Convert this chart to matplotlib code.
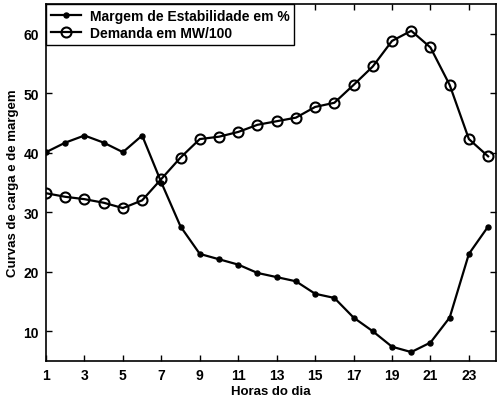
import matplotlib
matplotlib.use("Agg")
import matplotlib.pyplot as plt

plt.rcParams['font.family'] = ['Liberation Sans', 'DejaVu Sans']
plt.rcParams['font.weight'] = 'bold'

hours = list(range(1, 25))
margem = [40.1, 41.7, 42.9, 41.7, 40.1, 42.9, 35.0, 27.6, 23.0, 22.1, 21.2, 19.8,
          19.1, 18.4, 16.3, 15.6, 12.3, 10.0, 7.4, 6.5, 8.1, 12.3, 23.0, 27.6]
demanda = [33.2, 32.6, 32.2, 31.6, 30.7, 32.0, 35.6, 39.2, 42.3, 42.7, 43.5, 44.7,
           45.3, 45.9, 47.7, 48.4, 51.4, 54.5, 58.8, 60.5, 57.7, 51.4, 42.3, 39.4]
xticks = [1, 3, 5, 7, 9, 11, 13, 15, 17, 19, 21, 23]
yticks = [10, 20, 30, 40, 50, 60]

fig = plt.figure(figsize=(4.97, 4.02), dpi=100)
ax = fig.add_axes([0.0926, 0.0995, 0.905, 0.888])

ax.plot(hours, margem, '-', color='black', lw=1.6, marker='o', ms=3.6,
        mfc='black', mec='black', label='Margem de Estabilidade em %')
ax.plot(hours, demanda, '-', color='black', lw=1.6, marker='o', ms=7.2,
        mfc='none', mec='black', mew=1.5, label='Demanda em MW/100')

ax.set_xlim(1, 24.4)
ax.set_ylim(5, 65)
ax.set_xticks(xticks)
ax.set_yticks(yticks)
ax.tick_params(direction='in', top=True, right=True, length=4, width=1,
               labelsize=10, pad=5)
for lab in ax.get_xticklabels() + ax.get_yticklabels():
    lab.set_fontweight('bold')
for sp in ax.spines.values():
    sp.set_linewidth(1.2)

ax.set_xlabel('Horas do dia', fontsize=9.5, fontweight='bold', labelpad=2)
ax.set_ylabel('Curvas de carga e de margem', fontsize=9.5, fontweight='bold', labelpad=3)

leg = ax.legend(loc='upper left', borderaxespad=0, fancybox=False,
                edgecolor='black', framealpha=1, prop={'weight': 'bold', 'size': 10},
                handlelength=2.2, borderpad=0.35, labelspacing=0.25, handletextpad=0.6)
leg.get_frame().set_linewidth(1.0)

fig.savefig('out.png', dpi=100)
